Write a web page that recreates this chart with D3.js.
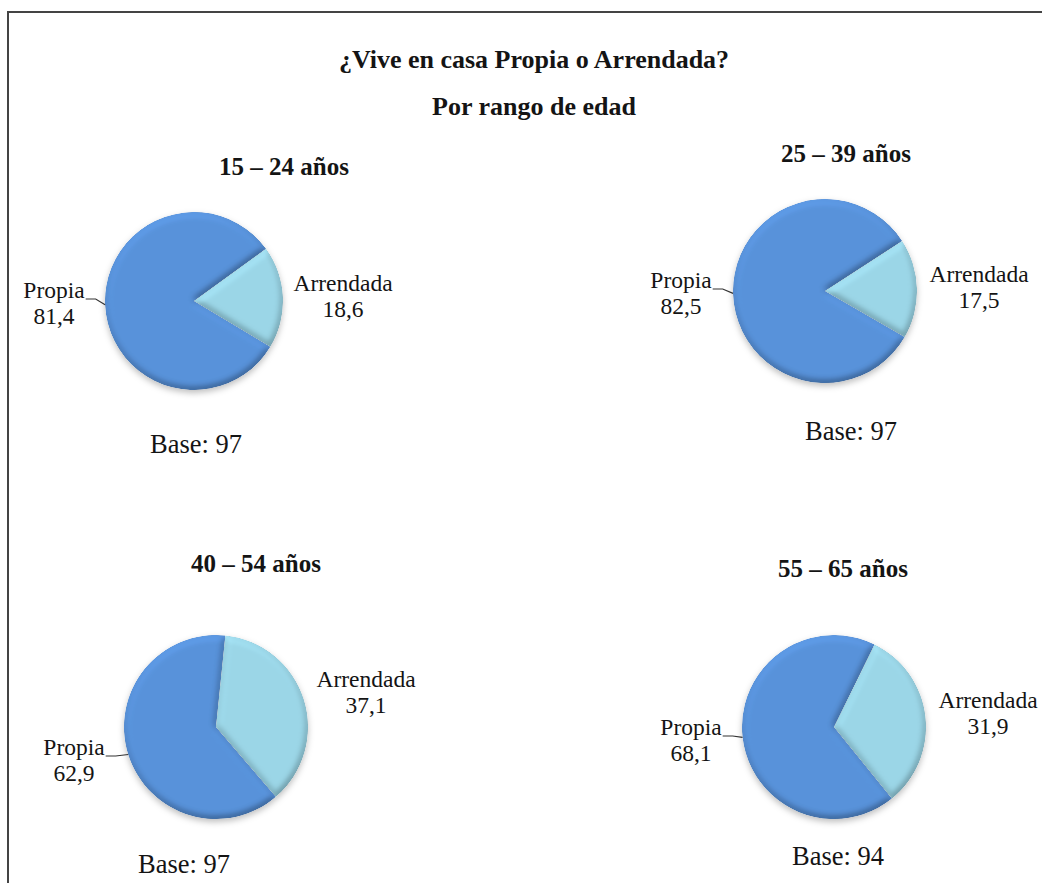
<!DOCTYPE html>
<html>
<head>
<meta charset="utf-8">
<script src="https://cdn.jsdelivr.net/npm/d3@7"></script>
<style>
  html, body { margin: 0; padding: 0; background: #fff; }
  svg { display: block; }
  text { font-family: "Liberation Serif", "Times New Roman", serif; fill: #141414; }
</style>
</head>
<body>
<svg id="chart" width="1042" height="883"></svg>
<script>
// ---- data ----
const titleLines = ["¿Vive en casa Propia o Arrendada?", "Por rango de edad"];
const groups = ["15 – 24 años", "25 – 39 años", "40 – 54 años", "55 – 65 años"];
const categories = ["Propia", "Arrendada"];
const propia = [81.4, 82.5, 62.9, 68.1];
const arrendada = [18.6, 17.5, 37.1, 31.9];
const bases = [97, 97, 97, 94];

// ---- layout (one entry per panel) ----
const layout = [
  { cx: 194, cy: 301, r: 89, rot: 121,   title: [284, 175], base: [196, 453], lblP: [54, 298],  lblA: [343, 291] },
  { cx: 825, cy: 291, r: 92, rot: 120,   title: [846, 162], base: [851, 440], lblP: [681, 288], lblA: [979, 282] },
  { cx: 216, cy: 727, r: 92, rot: 139.4, title: [256, 572], base: [184, 873], lblP: [74, 755],  lblA: [366, 687] },
  { cx: 834, cy: 727, r: 92, rot: 141,   title: [843, 577], base: [838, 865], lblP: [691, 735], lblA: [988, 708] }
];

const colors = d3.scaleOrdinal().domain(categories).range(["#5892da", "#9bd6e7"]);
const fmt = v => v.toFixed(1).replace(".", ",");

const svg = d3.select("#chart");
const defs = svg.append("defs");

// soft rounded bevel on each slice
const bevel = defs.append("filter").attr("id", "bevel")
  .attr("x", "-10%").attr("y", "-10%").attr("width", "120%").attr("height", "120%");
bevel.append("feGaussianBlur").attr("in", "SourceAlpha").attr("stdDeviation", 3.5).attr("result", "blur");
bevel.append("feDiffuseLighting").attr("in", "blur").attr("surfaceScale", 5)
  .attr("diffuseConstant", 1).attr("lighting-color", "#fff").attr("result", "light")
  .append("feDistantLight").attr("azimuth", 250).attr("elevation", 55);
bevel.append("feComposite").attr("in", "SourceGraphic").attr("in2", "light")
  .attr("operator", "arithmetic").attr("k1", 0.67).attr("k2", 0.45).attr("k3", 0).attr("k4", 0)
  .attr("result", "lit");
bevel.append("feComposite").attr("in", "lit").attr("in2", "SourceAlpha").attr("operator", "in");

// drop shadow under each pie
const shadow = defs.append("filter").attr("id", "shadow")
  .attr("x", "-20%").attr("y", "-20%").attr("width", "140%").attr("height", "150%");
shadow.append("feDropShadow").attr("dx", 0).attr("dy", 3).attr("stdDeviation", 3)
  .attr("flood-color", "#000").attr("flood-opacity", 0.25);

// frame
svg.append("rect").attr("x", 8).attr("y", 12).attr("width", 1100).attr("height", 1000)
  .attr("fill", "none").attr("stroke", "#444").attr("stroke-width", 2);

// titles
svg.selectAll("text.title").data(titleLines).join("text")
  .attr("class", "title")
  .attr("x", 534).attr("y", (d, i) => i === 0 ? 68 : 115)
  .attr("text-anchor", "middle")
  .style("font-size", "26px").style("font-weight", "bold")
  .text(d => d);

const arc = d3.arc().innerRadius(0);

groups.forEach((g, i) => {
  const L = layout[i];
  const values = [propia[i], arrendada[i]];
  const start = L.rot * Math.PI / 180;
  const pie = d3.pie().sort(null).startAngle(start).endAngle(start + 2 * Math.PI);
  const arcs = pie(values).map((a, k) => Object.assign(a, { cat: categories[k] }));

  const panel = svg.append("g").attr("class", "panel");

  // group title
  panel.append("text")
    .attr("x", L.title[0]).attr("y", L.title[1])
    .attr("text-anchor", "middle")
    .style("font-size", "25px").style("font-weight", "bold")
    .text(g);

  // pie
  const pg = panel.append("g")
    .attr("transform", `translate(${L.cx},${L.cy})`)
    .attr("filter", "url(#shadow)");
  pg.selectAll("path").data(arcs).join("path")
    .attr("d", d => arc.outerRadius(L.r)(d))
    .attr("fill", d => colors(d.cat))
    .attr("filter", "url(#bevel)");

  // slice labels
  const labelPos = { Propia: L.lblP, Arrendada: L.lblA };
  arcs.forEach(a => {
    const [lx, ly] = labelPos[a.cat];
    const t = panel.append("text")
      .attr("x", lx).attr("y", ly)
      .attr("text-anchor", "middle")
      .style("font-size", "23.5px");
    t.append("tspan").attr("x", lx).text(a.cat);
    t.append("tspan").attr("x", lx).attr("dy", 26).text(fmt(a.value));

    if (a.cat === "Propia") {
      // leader line from the name to the slice edge
      const w = t.select("tspan").node().getComputedTextLength();
      const x0 = lx + w / 2 + 1;
      const mid = (a.startAngle + a.endAngle) / 2;
      const ex = L.cx + L.r * Math.sin(mid);
      const ey = L.cy - L.r * Math.cos(mid);
      const bx = Math.min(x0 + 10, ex - 2);
      panel.append("path")
        .attr("d", `M${x0},${ly + 1}L${bx},${ly + 1}L${ex},${ey}`)
        .attr("fill", "none").attr("stroke", "#333").attr("stroke-width", 1.2);
    }
  });

  // base size
  panel.append("text")
    .attr("x", L.base[0]).attr("y", L.base[1])
    .attr("text-anchor", "middle")
    .style("font-size", "26.5px")
    .text("Base: " + bases[i]);
});
</script>
</body>
</html>
